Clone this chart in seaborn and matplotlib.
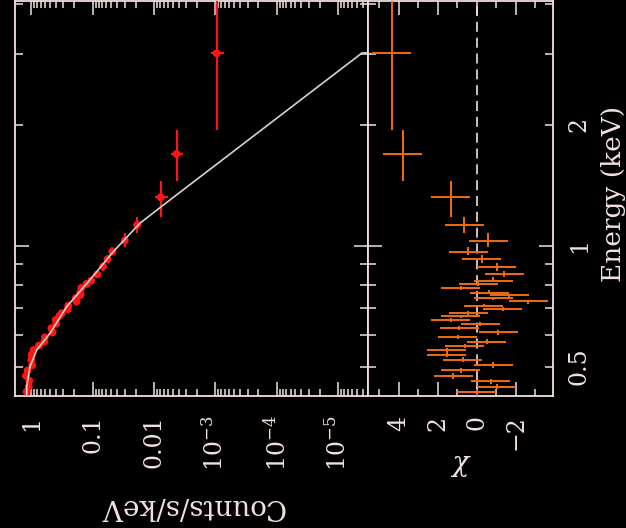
import numpy as np
import pandas as pd
import matplotlib
matplotlib.use("Agg")
import matplotlib.pyplot as plt
from matplotlib.ticker import (FixedLocator, FixedFormatter, NullFormatter,
                               LogLocator, MultipleLocator)
import seaborn as sns

# ---- spectral bins (keV), ascending in energy ----
bin_energy = [0.433, 0.446, 0.461, 0.474, 0.489, 0.504, 0.520, 0.535, 0.550,
              0.564, 0.577, 0.591, 0.608, 0.623, 0.639, 0.653, 0.668, 0.679,
              0.695, 0.709, 0.726, 0.740, 0.754, 0.764, 0.785, 0.803, 0.818,
              0.848, 0.887, 0.925, 0.966, 1.029, 1.126, 1.319, 1.691, 3.010]
bin_edges = [0.423, 0.439, 0.453, 0.467, 0.481, 0.496, 0.512, 0.527, 0.542,
             0.557, 0.570, 0.584, 0.599, 0.615, 0.631, 0.646, 0.660, 0.673,
             0.687, 0.702, 0.717, 0.733, 0.747, 0.759, 0.774, 0.794, 0.810,
             0.833, 0.867, 0.906, 0.945, 0.990, 1.075, 1.180, 1.445, 1.940,
             4.060]
rate = [1.19, 1.10, 1.08, 1.22, 1.15, 0.966, 1.00, 0.989, 0.918,
        0.752, 0.614, 0.603, 0.452, 0.472, 0.394, 0.401, 0.350, 0.320,
        0.255, 0.250, 0.184, 0.189, 0.158, 0.160, 0.153, 0.126, 0.106,
        0.0842, 0.0677, 0.0574, 0.0478, 0.0300, 0.0189, 7.8e-3, 4.3e-3, 9.6e-4]
rate_err = [0.085, 0.08, 0.08, 0.085, 0.08, 0.07, 0.072, 0.07, 0.066,
            0.055, 0.046, 0.045, 0.034, 0.036, 0.03, 0.03, 0.027, 0.025,
            0.02, 0.02, 0.015, 0.015, 0.013, 0.013, 0.012, 0.010, 0.0085,
            0.0068, 0.0055, 0.0047, 0.004, 0.0026, 0.0017, 1.8e-3, 9.8e-4, 2.2e-4]
chi = [0.00, -1.03, -0.73, 1.20, 0.82, -0.85, 0.72, 1.54, 1.54,
       0.60, -0.51, 0.97, -1.11, 0.89, -0.17, 1.32, 0.82, 0.43,
       -1.33, -0.37, -2.65, -0.85, -1.67, -0.65, 0.82, -0.07, -0.85,
       -1.42, -1.03, -0.26, 0.43, -0.59, 0.64, 1.33, 3.79, 4.36]

# ---- folded model ----
model_energy = [0.423, 0.446, 0.500, 0.550, 0.605, 0.705, 0.822, 0.966,
                1.137, 1.299, 3.015, 3.015]
model_rate = [1.188, 1.188, 1.05, 0.817, 0.496, 0.265, 0.1107, 0.0462,
              0.0170, 5.51e-3, 4.1e-6, 1e-7]

# ---- axis ticks ----
count_ticks = [1, 0.1, 0.01, 1e-3, 1e-4, 1e-5]
count_labels = ["1", "0.1", "0.01", r"$10^{-3}$", r"$10^{-4}$", r"$10^{-5}$"]
chi_ticks = [4, 2, 0, -2]
chi_labels = ["4", "2", "0", "\u22122"]
energy_major = [1]
energy_major_labels = ["1"]
energy_minor = [0.5, 0.6, 0.7, 0.8, 0.9, 2, 3, 4]
energy_minor_labels = ["0.5", "", "", "", "", "2", "", ""]

FG = "#f4e0e0"
DATA_RED = "#ff1414"
CHI_ORANGE = "#f26a12"
MODEL_GREY = "#d9d2d2"

sns.set_theme(style="dark")
plt.rcParams.update({
    "figure.facecolor": "black",
    "axes.facecolor": "black",
    "axes.edgecolor": FG,
    "axes.linewidth": 1.3,
    "text.color": FG,
    "xtick.color": FG,
    "ytick.color": FG,
    "axes.grid": False,
    "mathtext.fontset": "dejavuserif",
})
plt.rcParams["font.family"] = ["DejaVu Serif", "DejaVu Sans"]

df = pd.DataFrame({
    "energy": bin_energy,
    "rate": rate,
    "rate_err": rate_err,
    "chi": chi,
    "e_lo": bin_edges[:-1],
    "e_hi": bin_edges[1:],
})
model_df = pd.DataFrame({"energy": model_energy, "rate": model_rate})

W, H = 626, 528
fig = plt.figure(figsize=(W / 100, H / 100), dpi=100)
ax1 = fig.add_axes([15 / W, 1 - 396 / H, 353 / W, 395 / H])
ax2 = fig.add_axes([368 / W, 1 - 396 / H, 184.5 / W, 395 / H], sharey=ax1)

for ax in (ax1, ax2):
    ax.set_facecolor("black")
    for s in ax.spines.values():
        s.set_color(FG)
        s.set_linewidth(1.3)

# ---- count-rate panel ----
ax1.set_xscale("log")
ax1.set_yscale("log")
ebar_lo = df["energy"] - df["e_lo"]
ebar_hi = df["e_hi"] - df["energy"]
ax1.errorbar(df["rate"], df["energy"], xerr=df["rate_err"],
             yerr=[ebar_lo, ebar_hi], fmt="none", ecolor=DATA_RED,
             elinewidth=1.6, capsize=0, zorder=3)
sns.scatterplot(data=df, x="rate", y="energy", ax=ax1, color=DATA_RED,
                s=32, marker="o", edgecolor="none", zorder=4, legend=False)
sns.lineplot(data=model_df, x="rate", y="energy", ax=ax1, sort=False,
             estimator=None, color=MODEL_GREY, linewidth=1.2, zorder=5)
ax1.set_xlim(1.844, 3.28e-6)
ax1.set_ylim(0.4225, 4.06)
ax1.set_xlabel("")
ax1.set_ylabel("")

ax1.xaxis.set_major_locator(FixedLocator(count_ticks))
ax1.xaxis.set_major_formatter(FixedFormatter(count_labels))
ax1.xaxis.set_minor_locator(LogLocator(base=10, subs=np.arange(2, 10), numticks=30))
ax1.xaxis.set_minor_formatter(NullFormatter())
ax1.tick_params(axis="x", which="both", direction="in", top=True, bottom=True,
                labelsize=17, labelrotation=90, pad=14, width=1.1)
ax1.tick_params(axis="x", which="major", length=10)
ax1.tick_params(axis="x", which="minor", length=5)

for ax in (ax1, ax2):
    ax.yaxis.set_major_locator(FixedLocator(energy_major))
    ax.yaxis.set_minor_locator(FixedLocator(energy_minor))
    ax.tick_params(axis="y", which="both", direction="in", left=True,
                   right=True, width=1.1)
    ax.tick_params(axis="y", which="major", length=10)
    ax.tick_params(axis="y", which="minor", length=5.5)
ax1.tick_params(axis="y", which="both", labelleft=False, labelright=False)

# ---- residual panel ----
ax2.errorbar(df["chi"], df["energy"], xerr=1.0, yerr=[ebar_lo, ebar_hi],
             fmt="none", ecolor=CHI_ORANGE, elinewidth=1.4, capsize=0, zorder=3)
ax2.axvline(0, color=FG, linewidth=1.2, linestyle=(0, (6, 3.5)), zorder=2)
ax2.set_xlim(5.574, -3.887)
ax2.xaxis.set_major_locator(FixedLocator(chi_ticks))
ax2.xaxis.set_major_formatter(FixedFormatter(chi_labels))
ax2.xaxis.set_minor_locator(MultipleLocator(1))
ax2.tick_params(axis="x", which="both", direction="in", top=True, bottom=True,
                labelsize=17, labelrotation=90, pad=14, width=1.1)
ax2.tick_params(axis="x", which="major", length=10)
ax2.tick_params(axis="x", which="minor", length=5)

ax2.yaxis.set_major_formatter(FixedFormatter(energy_major_labels))
ax2.yaxis.set_minor_formatter(FixedFormatter(energy_minor_labels))
ax2.tick_params(axis="y", which="both", labelleft=False, labelright=True,
                labelsize=17, labelrotation=90, pad=11)
for lab in ax2.get_yticklabels(which="both"):
    lab.set_verticalalignment("center")
ax2.set_xlabel("")
ax2.set_ylabel("")

# ---- axis titles ----
fig.text(191.5 / W, 1 - 506 / H, "Counts/s/keV", rotation=180,
         ha="center", va="center", fontsize=20, color=FG)
fig.text(460 / W, 1 - 465 / H, r"$\chi$", rotation=180,
         ha="center", va="center", fontsize=20, color=FG)
fig.text(614 / W, 1 - 194 / H, "Energy (keV)", rotation=90,
         ha="center", va="center", fontsize=19, color=FG)

fig.savefig("out.png", dpi=100, facecolor="black")
